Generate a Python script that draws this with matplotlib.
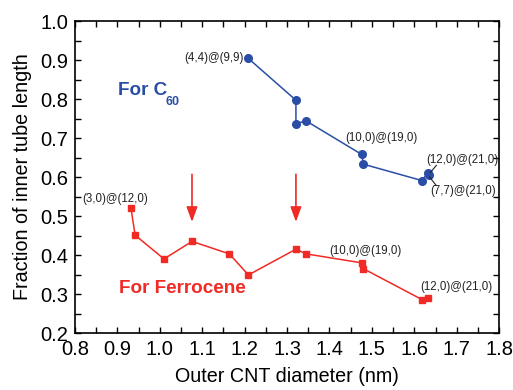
import matplotlib
matplotlib.use("Agg")
import matplotlib.pyplot as plt
from matplotlib.ticker import MultipleLocator

plt.rcParams['font.family'] = ['Liberation Sans', 'DejaVu Sans']

# --- data ---
c60_d = [1.208, 1.321, 1.321, 1.345, 1.476, 1.480, 1.618, 1.632, 1.634]
c60_f = [0.905, 0.797, 0.737, 0.744, 0.658, 0.633, 0.591, 0.611, 0.605]

fc_d = [0.932, 0.942, 1.010, 1.076, 1.164, 1.209, 1.321, 1.345, 1.476, 1.480, 1.618, 1.632]
fc_f = [0.521, 0.451, 0.390, 0.435, 0.403, 0.349, 0.415, 0.403, 0.380, 0.365, 0.286, 0.290]

arrow_x = [1.076, 1.321]

BLUE = '#2a4ea6'
RED = '#f02a24'

fig = plt.figure(figsize=(5.13, 3.90), dpi=100)
ax = fig.add_axes([0.146, 0.146, 0.827, 0.800])

ax.plot(c60_d, c60_f, '-o', color=BLUE, ms=5.5, lw=1.1)
ax.plot(fc_d, fc_f, '-s', color=RED, ms=5, lw=1.1)

for xa in arrow_x:
    ax.annotate('', xy=(xa, 0.485), xytext=(xa, 0.607),
                arrowprops=dict(arrowstyle='-|>,head_length=0.6,head_width=0.22',
                                color=RED, lw=1.2,
                                mutation_scale=15, shrinkA=0, shrinkB=0))

# labels
lab = dict(fontsize=8.3, color='#222222')
ax.text(1.198, 0.905, '(4,4)@(9,9)', ha='right', va='center', **lab)
ax.text(1.438, 0.699, '(10,0)@(19,0)', ha='left', va='center', **lab)
ax.text(1.627, 0.644, '(12,0)@(21,0)', ha='left', va='center', **lab)
ax.text(1.637, 0.565, '(7,7)@(21,0)', ha='left', va='center', **lab)
ax.plot([1.638, 1.652], [0.612, 0.630], color='#222222', lw=0.8)
ax.plot([1.636, 1.652], [0.600, 0.578], color='#222222', lw=0.8)
ax.text(0.817, 0.545, '(3,0)@(12,0)', ha='left', va='center', **lab)
ax.text(1.399, 0.411, '(10,0)@(19,0)', ha='left', va='center', **lab)
ax.text(1.615, 0.319, '(12,0)@(21,0)', ha='left', va='center', **lab)

ax.text(0.901, 0.823, 'For C', color=BLUE, fontsize=13.6,
        fontweight='bold', ha='left', va='center')
ax.text(1.013, 0.793, '60', color=BLUE, fontsize=9,
        fontweight='bold', ha='left', va='center')
ax.text(0.904, 0.315, 'For Ferrocene', color=RED, fontsize=13.6,
        fontweight='bold', ha='left', va='center')

ax.set_xlim(0.8, 1.8)
ax.set_ylim(0.2, 1.0)
ax.xaxis.set_major_locator(MultipleLocator(0.1))
ax.xaxis.set_minor_locator(MultipleLocator(0.05))
ax.yaxis.set_major_locator(MultipleLocator(0.1))
ax.yaxis.set_minor_locator(MultipleLocator(0.05))
ax.tick_params(which='both', direction='in', top=True, right=True,
               length=4.5, width=1, labelsize=14.5, pad=5)
ax.set_xticklabels([f'{v:.1f}' for v in ax.get_xticks()])
ax.set_yticklabels([f'{v:.1f}' for v in ax.get_yticks()])
for s in ax.spines.values():
    s.set_linewidth(1.2)

ax.set_xlabel('Outer CNT diameter (nm)', fontsize=14.2, labelpad=6)
ax.set_ylabel('Fraction of inner tube length', fontsize=14.2, labelpad=6)

fig.savefig('out.png', dpi=100)
